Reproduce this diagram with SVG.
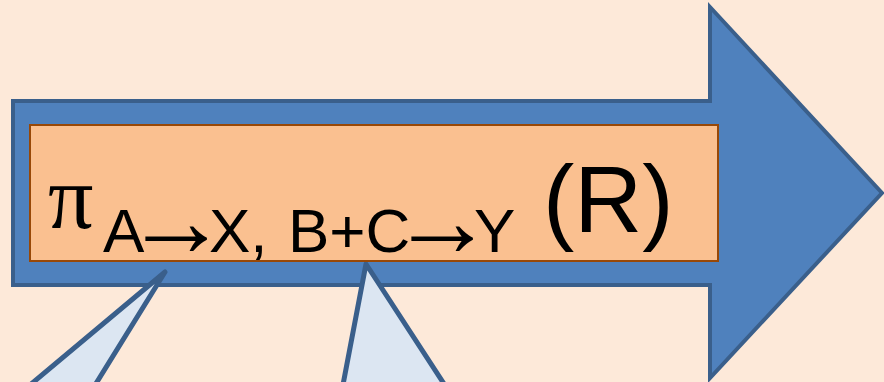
<svg xmlns="http://www.w3.org/2000/svg" width="884" height="382" viewBox="0 0 884 382">
<style>
.bg{fill:#fde9d9}
.arrow{fill:#4f81bd;stroke:#3a5f8b;stroke-width:4;stroke-linejoin:miter}
.box{fill:#fac090;stroke:#984807;stroke-width:2}
.callout{fill:#dce6f2;stroke:#3a5f8b;stroke-width:5;stroke-linejoin:round}
.t{font-family:"Liberation Sans",Arial,sans-serif;fill:#000}
.ar{font-family:"Liberation Serif","Times New Roman",serif;font-size:104px;letter-spacing:-40px}
.pi{font-family:"Liberation Serif","Times New Roman",serif;fill:#000}
</style>
<rect class="bg" x="0" y="0" width="884" height="382"/>
<g id="arrow">
<polygon class="arrow" points="13,101 710,101 710,7 882,193 710,378 710,285 13,285"/>
</g>
<g id="connectors">
<polygon class="callout" points="165,272 92,390 24,390"/>
<polygon class="callout" points="366,264 448,390 342,390"/>
</g>
<g id="label">
<rect class="box" x="30" y="125" width="688" height="136"/>
<text class="pi" x="48" y="228" font-size="90">π</text>
<text class="t" y="252" font-size="62"><tspan x="103">A</tspan><tspan class="ar" x="124" y="256">→</tspan><tspan x="209" y="252">X, </tspan><tspan x="288">B+C</tspan><tspan class="ar" x="390" y="256">→</tspan><tspan x="474" y="252">Y</tspan></text>
<text class="t" x="543" y="232" font-size="94">(R)</text>
</g>
</svg>
